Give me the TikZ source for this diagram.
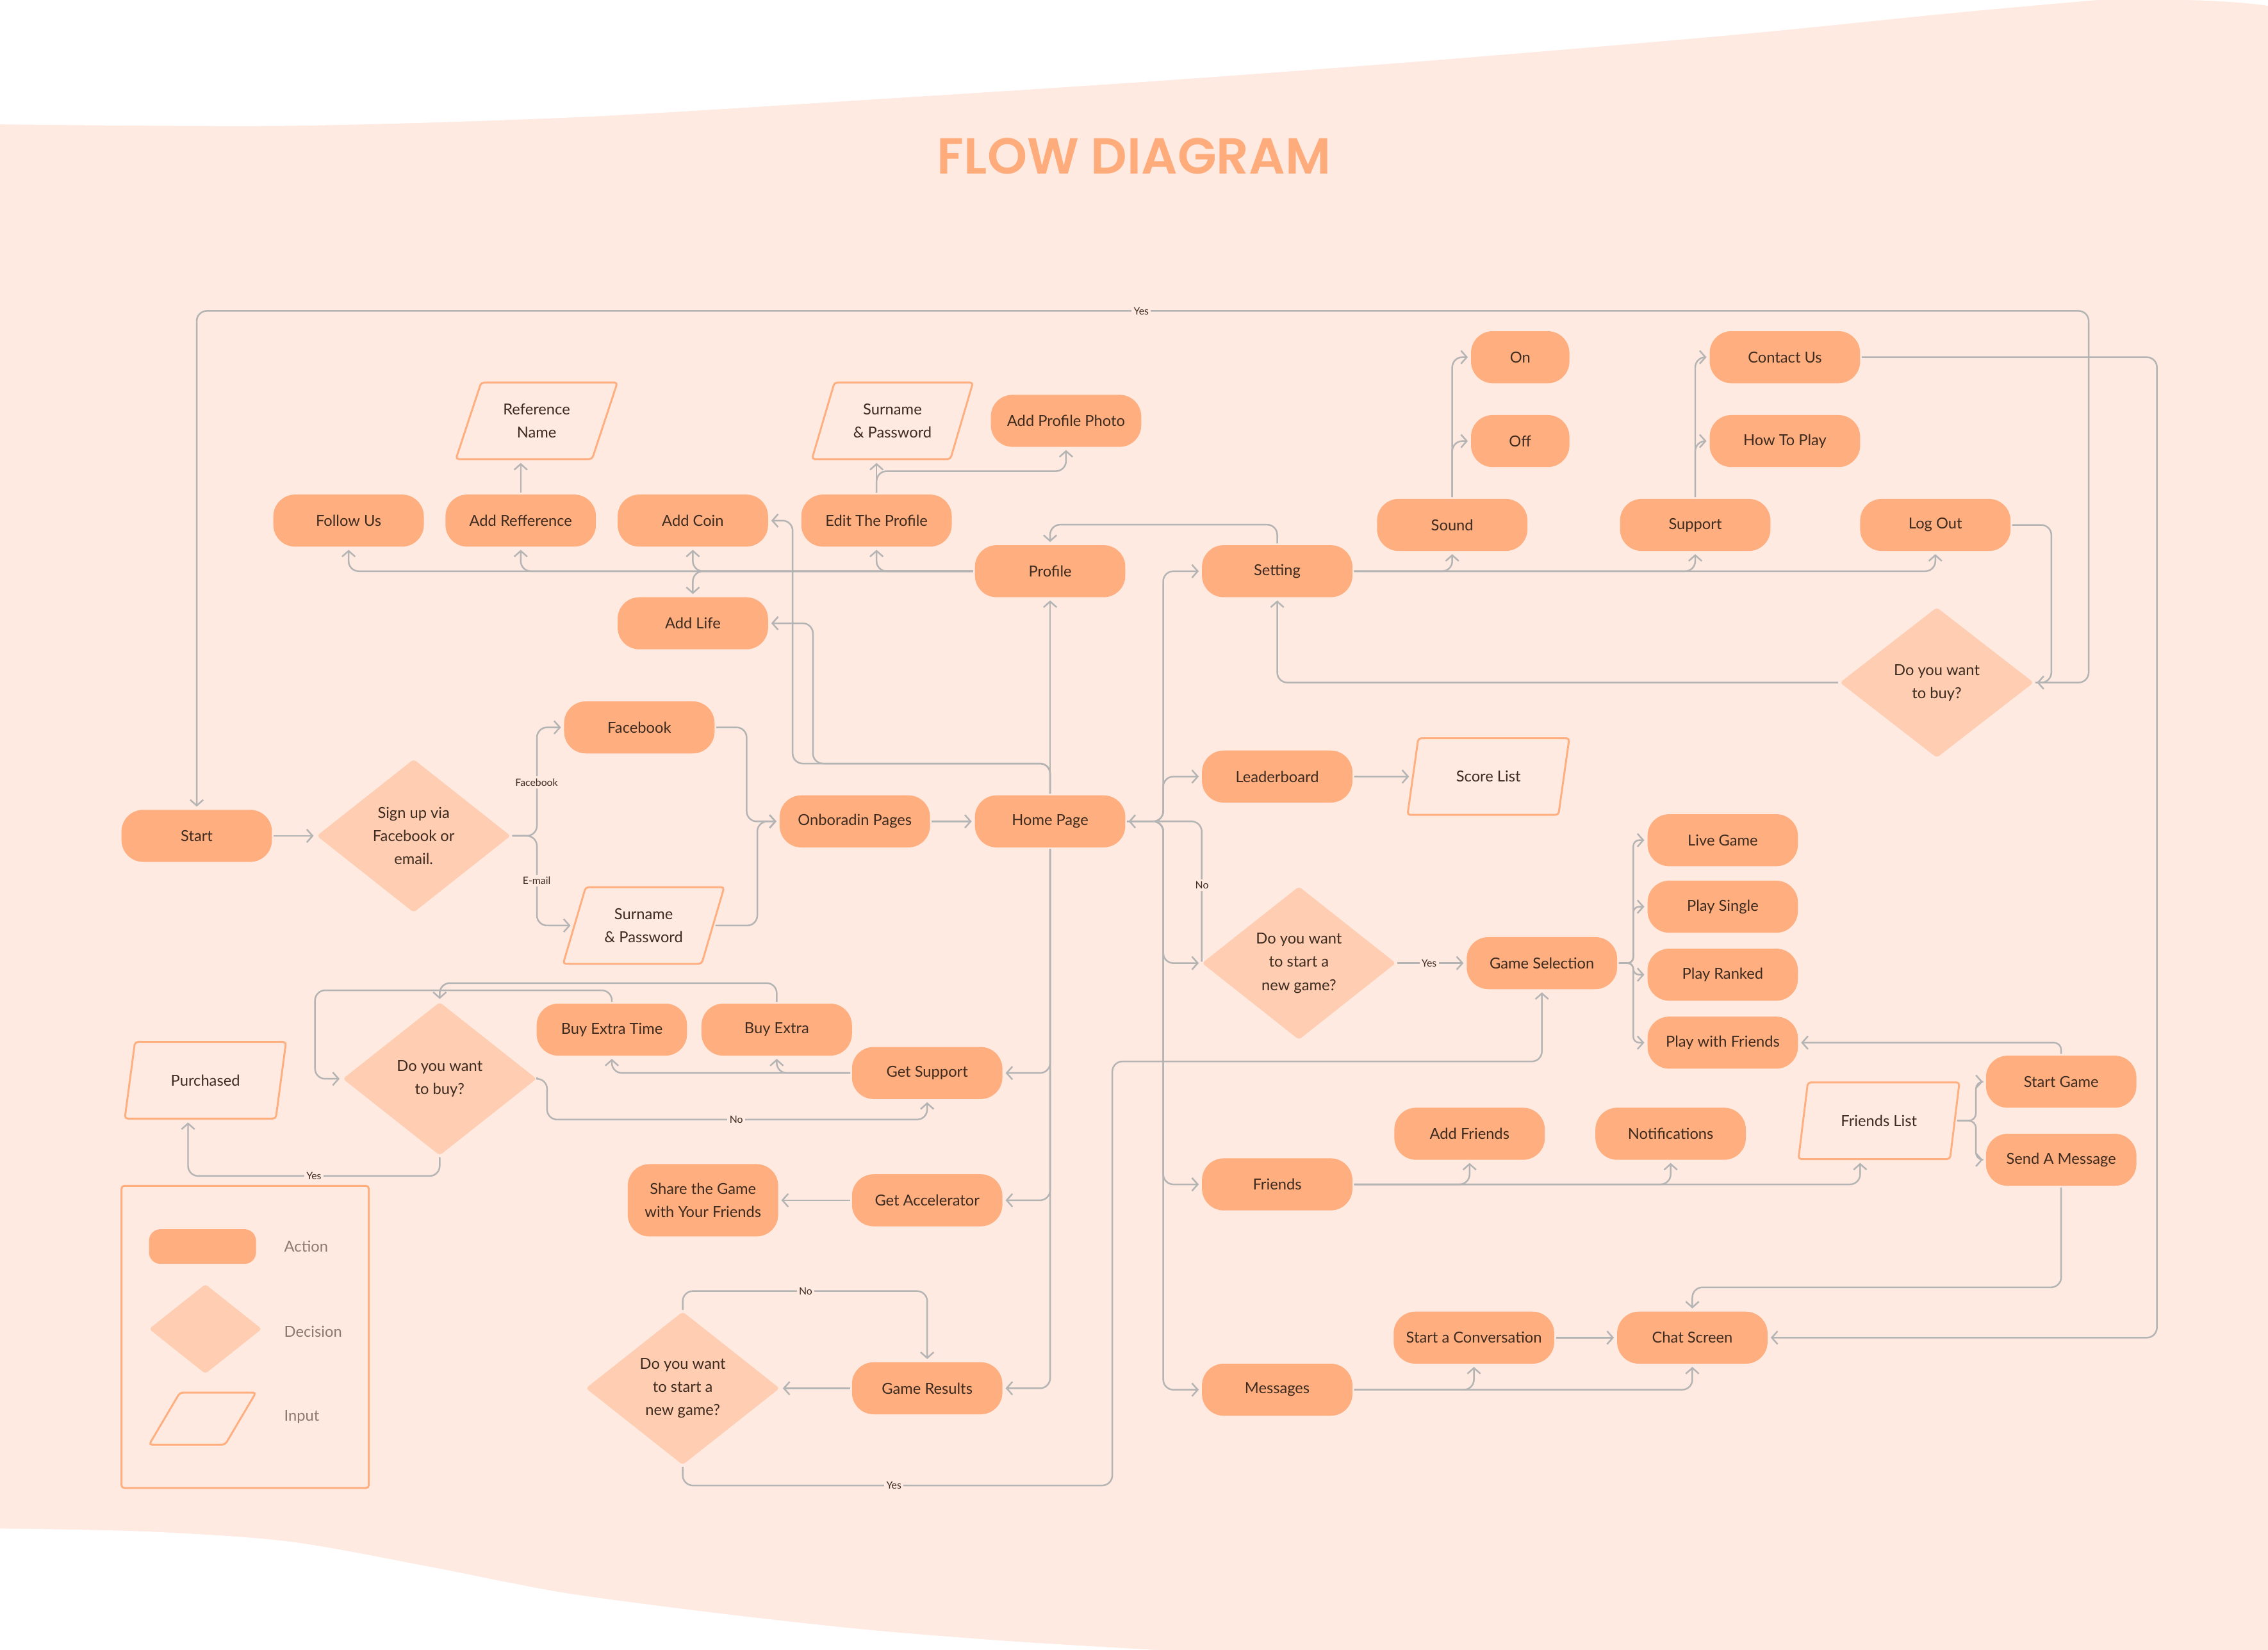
\documentclass[tikz,border=0pt]{standalone}
\usepackage{fontspec}
\setmainfont{Lato}
\newfontfamily\titlefont{Poppins SemiBold}
\usetikzlibrary{shapes.geometric, arrows.meta}
\definecolor{bgpeach}{HTML}{FEEAE1}
\definecolor{actfill}{HTML}{FFAE7F}
\definecolor{decfill}{HTML}{FFCDB1}
\definecolor{linegray}{HTML}{B4B4B4}
\definecolor{txtbrown}{HTML}{3D2B20}
\definecolor{legtxt}{HTML}{8B786F}
\definecolor{titleorange}{HTML}{FFAC7C}

\tikzset{
	actbox/.style={rectangle, rounded corners=15pt, fill=actfill, minimum width=104pt, minimum height=36pt, inner sep=2pt, align=center, text=txtbrown, font=\fontsize{10.5}{16}\selectfont},
	decbox/.style={diamond, rounded corners=2pt, fill=decfill, minimum width=134pt, minimum height=106pt, inner sep=0pt, align=center, text=txtbrown, font=\fontsize{10.5}{16}\selectfont},
	inbox/.style={trapezium, trapezium left angle=66, trapezium right angle=114, trapezium stretches=true, draw=actfill, line width=1.3pt, fill=bgpeach, rounded corners=2pt, minimum width=112pt, minimum height=53pt, inner sep=0pt, align=center, text=txtbrown, font=\fontsize{10.5}{16}\selectfont},
	flow/.style={draw=linegray, line width=1.1pt, rounded corners=7pt, ->, shorten >=2pt, shorten <=1pt},
	flowlbl/.style={fill=bgpeach, inner sep=1.5pt, text=txtbrown, font=\fontsize{7}{8}\selectfont},
	leglbl/.style={anchor=west, text=legtxt, font=\fontsize{10.5}{12}\selectfont}
}

\begin{document}
\begin{tikzpicture}[x=1pt, y=-1pt, >={Straight Barb[length=4pt,width=9pt]}]
	\useasboundingbox (0,0) rectangle (1568,1141);
	\fill[bgpeach] (0,0) rectangle (1568,1141);
	\fill[white] (0,0) -- plot[smooth] coordinates {(0,86) (200,87) (400,81) (600,69) (800,56) (1000,41) (1200,24) (1350,9) (1450,0)} -- cycle;
	\fill[white] (1440,0) .. controls (1500,-1) and (1540,0) .. (1568,4) -- (1568,0) -- cycle;
	\fill[white] (0,1141) -- plot[smooth] coordinates {(0,1057) (100,1059) (200,1066) (300,1084) (350,1094) (400,1103) (500,1116) (600,1127) (700,1135) (800,1141)} -- cycle;

	\node[font=\titlefont\fontsize{35}{38}\selectfont, text=titleorange] (title) at (784,108) {FLOW DIAGRAM};

	% left part
	\node[actbox] (start) at (136,578) {Start};
	\node[decbox] (signup) at (286,578) {Sign up via\\Facebook or\\email.};
	\node[actbox] (facebook) at (442,503) {Facebook};
	\node[inbox] (surnameM) at (445,640) {Surname\\\& Password};
	\node[actbox] (onboard) at (591,568) {Onboradin Pages};
	\node[actbox] (home) at (726,568) {Home Page};

	% profile branch
	\node[actbox] (profile) at (726,395) {Profile};
	\node[actbox] (follow) at (241,360) {Follow Us};
	\node[actbox] (addref) at (360,360) {Add Refference};
	\node[actbox] (addcoin) at (479,360) {Add Coin};
	\node[actbox] (editprof) at (606,360) {Edit The Profile};
	\node[actbox] (addlife) at (479,431) {Add Life};
	\node[inbox] (refname) at (371,291) {Reference\\Name};
	\node[inbox] (surnameT) at (617,291) {Surname\\\& Password};
	\node[actbox] (addphoto) at (737,291) {Add Profile Photo};

	% setting branch
	\node[actbox] (setting) at (883,395) {Setting};
	\node[actbox] (sound) at (1004,363) {Sound};
	\node[actbox, minimum width=68pt] (on) at (1051,247) {On};
	\node[actbox, minimum width=68pt] (off) at (1051,305) {Off};
	\node[actbox] (support) at (1172,363) {Support};
	\node[actbox] (contact) at (1234,247) {Contact Us};
	\node[actbox] (howto) at (1234,305) {How To Play};
	\node[actbox] (logout) at (1338,363) {Log Out};
	\node[decbox, minimum height=104pt] (buyR) at (1339,472) {Do you want\\to buy?};

	% game branch
	\node[actbox] (leader) at (883,537) {Leaderboard};
	\node[inbox] (score) at (1029,537) {Score List};
	\node[decbox] (newgameR) at (898,666) {Do you want\\to start a\\new game?};
	\node[actbox] (gamesel) at (1066,666) {Game Selection};
	\node[actbox] (live) at (1191,581) {Live Game};
	\node[actbox] (single) at (1191,627) {Play Single};
	\node[actbox] (ranked) at (1191,674) {Play Ranked};
	\node[actbox] (withfr) at (1191,721) {Play with Friends};

	% friends and messages
	\node[actbox] (friends) at (883,819) {Friends};
	\node[actbox] (addfr) at (1016,784) {Add Friends};
	\node[actbox] (notif) at (1155,784) {Notifications};
	\node[inbox] (frlist) at (1299,775) {Friends List};
	\node[actbox] (startgame) at (1425,748) {Start Game};
	\node[actbox] (sendmsg) at (1425,802) {Send A Message};
	\node[actbox] (messages) at (883,961) {Messages};
	\node[actbox, minimum width=111pt] (startconv) at (1019,925) {Start a Conversation};
	\node[actbox] (chat) at (1170,925) {Chat Screen};

	% in-game part
	\node[actbox] (getsup) at (641,742) {Get Support};
	\node[actbox] (buytime) at (423,712) {Buy Extra Time};
	\node[actbox] (buyextra) at (537,712) {Buy Extra};
	\node[decbox] (buyL) at (304,746) {Do you want\\to buy?};
	\node[inbox] (purchased) at (142,747) {Purchased};
	\node[actbox] (getacc) at (641,830) {Get Accelerator};
	\node[actbox, minimum height=50pt] (share) at (486,830) {Share the Game\\with Your Friends};
	\node[actbox] (results) at (641,960) {Game Results};
	\node[decbox] (newgameL) at (472,960) {Do you want\\to start a\\new game?};

	% connectors
	\draw[flow] (start.east) -- (signup.west);
	\draw[flow] (signup.east) -- ++(18,0) |- (facebook.west);
	\draw[flow] (signup.east) -- ++(18,0) |- (surnameM.west);
	\draw[flow] (facebook.east) -- ++(22,0) |- (onboard.west);
	\draw[flow] (surnameM.east) -- ++(30,0) |- (onboard.west);
	\draw[flow] (onboard.east) -- (home.west);
	\draw[flow] (home.north) -- (profile.south);
	\draw[flow] (home.north) |- (548,528) |- (addcoin.east);
	\draw[flow] (home.north) |- (562,528) |- (addlife.east);
	\draw[flow] (profile.west) -| (follow.south);
	\draw[flow] (profile.west) -| (addref.south);
	\draw[flow] (profile.west) -| (addcoin.south);
	\draw[flow] (profile.west) -| (editprof.south);
	\draw[flow] (profile.west) -| (addlife.north);
	\draw[flow] (editprof.north) -- (editprof.north |- surnameT.south);
	\draw[flow] (editprof.north) -- ++(0,-16) -| (addphoto.south);
	\draw[flow] (addref.north) -- (addref.north |- refname.south);
	\draw[flow] (setting.north) -- ++(0,-14) -| (profile.north);
	\draw[flow] (setting.east) -| (sound.south);
	\draw[flow] (setting.east) -| (support.south);
	\draw[flow] (setting.east) -| (logout.south);
	\draw[flow] (sound.north) |- (on.west);
	\draw[flow] (sound.north) |- (off.west);
	\draw[flow] (support.north) |- (contact.west);
	\draw[flow] (support.north) |- (howto.west);
	\draw[flow] (contact.east) -- ++(205,0) |- (chat.east);
	\draw[flow] (logout.east) -- ++(28,0) |- (buyR.east);
	\draw[flow] (buyR.east) -| (1444,215) -| (start.north);
	\draw[flow] (buyR.west) -| (setting.south);
	\draw[flow] (home.east) -- ++(26,0) |- (setting.west);
	\draw[flow] (home.east) -- ++(26,0) |- (leader.west);
	\draw[flow] (home.east) -- ++(26,0) |- (newgameR.west);
	\draw[flow] (home.east) -- ++(26,0) |- (friends.west);
	\draw[flow] (home.east) -- ++(26,0) |- (messages.west);
	\draw[flow] (newgameR.west) |- (home.east);
	\draw[flow] (leader.east) -- (score.west);
	\draw[flow] (newgameR.east) -- (gamesel.west);
	\draw[flow, rounded corners=4pt] (gamesel.east) -- ++(11,0) |- (live.west);
	\draw[flow, rounded corners=4pt] (gamesel.east) -- ++(11,0) |- (single.west);
	\draw[flow, rounded corners=4pt] (gamesel.east) -- ++(11,0) |- (ranked.west);
	\draw[flow, rounded corners=4pt] (gamesel.east) -- ++(11,0) |- (withfr.west);
	\draw[flow, rounded corners=5pt] (startgame.north) |- (withfr.east);
	\draw[flow, rounded corners=5pt] (frlist.east) -- ++(14,0) |- (startgame.west);
	\draw[flow, rounded corners=5pt] (frlist.east) -- ++(14,0) |- (sendmsg.west);
	\draw[flow] (friends.east) -| (addfr.south);
	\draw[flow] (friends.east) -| (notif.south);
	\draw[flow] (friends.east) -| ([xshift=-13pt]frlist.south);
	\draw[flow] (sendmsg.south) -- ++(0,70) -| (chat.north);
	\draw[flow] (startconv.east) -- (chat.west);
	\draw[flow] (messages.east) -| (startconv.south);
	\draw[flow] (messages.east) -| (chat.south);
	\draw[flow] (home.south) |- (getsup.east);
	\draw[flow] (home.south) |- (getacc.east);
	\draw[flow] (home.south) |- (results.east);
	\draw[flow] (getsup.west) -| (buytime.south);
	\draw[flow] (getsup.west) -| (buyextra.south);
	\draw[flow] (buytime.north) -- ++(0,-9) -| ([xshift=-19pt]buyL.west) -- (buyL.west);
	\draw[flow] (buyextra.north) -- ++(0,-14) -| (buyL.north);
	\draw[flow] (buyL.east) -- ++(7,0) |- ([yshift=-14pt]getsup.south) -- (getsup.south);
	\draw[flow] (buyL.south) -- ++(0,14) -| ([xshift=-12pt]purchased.south);
	\draw[flow] (getacc.west) -- (share.east);
	\draw[flow] (results.west) -- (newgameL.east);
	\draw[flow] (newgameL.north) -- ++(0,-14) -| (results.north);
	\draw[flow] (newgameL.south) -- ++(0,14) -| (769,734) -| (gamesel.south);

	% labels on connectors
	\node[flowlbl] (lyestop) at (789,215) {Yes};
	\node[flowlbl] (lfb) at (371,541) {Facebook};
	\node[flowlbl] (lmail) at (371,609) {E-mail};
	\node[flowlbl] (lnohome) at (831,612) {No};
	\node[flowlbl] (lyessel) at (988,666) {Yes};
	\node[flowlbl] (lnobuy) at (509,774) {No};
	\node[flowlbl] (lyesbuy) at (217,813) {Yes};
	\node[flowlbl] (lnores) at (557,893) {No};
	\node[flowlbl] (lyesres) at (618,1027) {Yes};

	% legend
	\draw[actfill, line width=1.3pt, rounded corners=2pt] (84,820) rectangle (255,1029);
	\node[actbox, minimum width=74pt, minimum height=24pt, rounded corners=8pt] (legact) at (140,862) {};
	\node[decbox, minimum width=78pt, minimum height=62pt] (legdec) at (142,919) {};
	\node[inbox, minimum width=74pt, minimum height=36pt] (legin) at (140,981) {\hphantom{xx}\strut};
	\node[leglbl] (legacttxt) at (193,862) {Action};
	\node[leglbl] (legdectxt) at (193,921) {Decision};
	\node[leglbl] (legintxt) at (193,980) {Input};
\end{tikzpicture}
\end{document}
